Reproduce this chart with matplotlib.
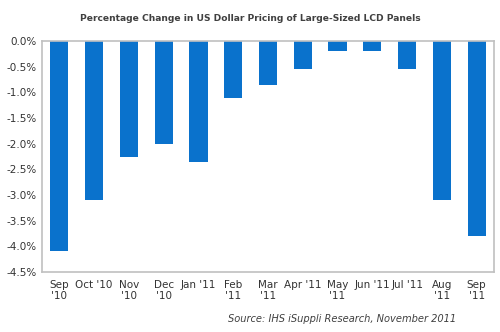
import matplotlib.pyplot as plt
import numpy as np

months = ["Sep\n'10", "Oct '10", "Nov\n'10", "Dec\n'10", "Jan '11", "Feb\n'11", "Mar\n'11",
          "Apr '11", "May\n'11", "Jun '11", "Jul '11", "Aug\n'11", "Sep\n'11"]
change = [-4.1, -3.1, -2.25, -2.0, -2.35, -1.1, -0.85, -0.55, -0.2, -0.2, -0.55, -3.1, -3.8]
yticks = [0.0, -0.5, -1.0, -1.5, -2.0, -2.5, -3.0, -3.5, -4.0, -4.5]

fig = plt.figure(figsize=(5, 3.32), dpi=100)
ax = fig.add_axes([0.084, 0.181, 0.904, 0.695])

x = np.arange(len(months))
ax.bar(x, change, width=0.52, color='#0a72cc')

ax.set_xlim(-0.5, len(months) - 0.5)
ax.set_ylim(-4.5, 0)
ax.set_yticks(yticks)
ax.set_yticklabels(['%.1f%%' % v for v in yticks], fontsize=7.5, color='#333333')
ax.set_xticks(x)
ax.set_xticklabels(months, fontsize=7.5, color='#333333', linespacing=1.1, va='top')
ax.tick_params(length=0, pad=4)
ax.tick_params(axis='x', pad=6)

for s in ax.spines.values():
    s.set_color('#c0c0c0')
    s.set_linewidth(1.2)

fig.text(0.5, 0.945, 'Percentage Change in US Dollar Pricing of Large-Sized LCD Panels',
         ha='center', va='center', fontsize=6.6, fontweight='bold', color='#404040')
fig.text(0.912, 0.04, 'Source: IHS iSuppli Research, November 2011',
         ha='right', va='center', fontsize=7.1, style='italic', color='#404040')

fig.savefig('out.png', dpi=100)
